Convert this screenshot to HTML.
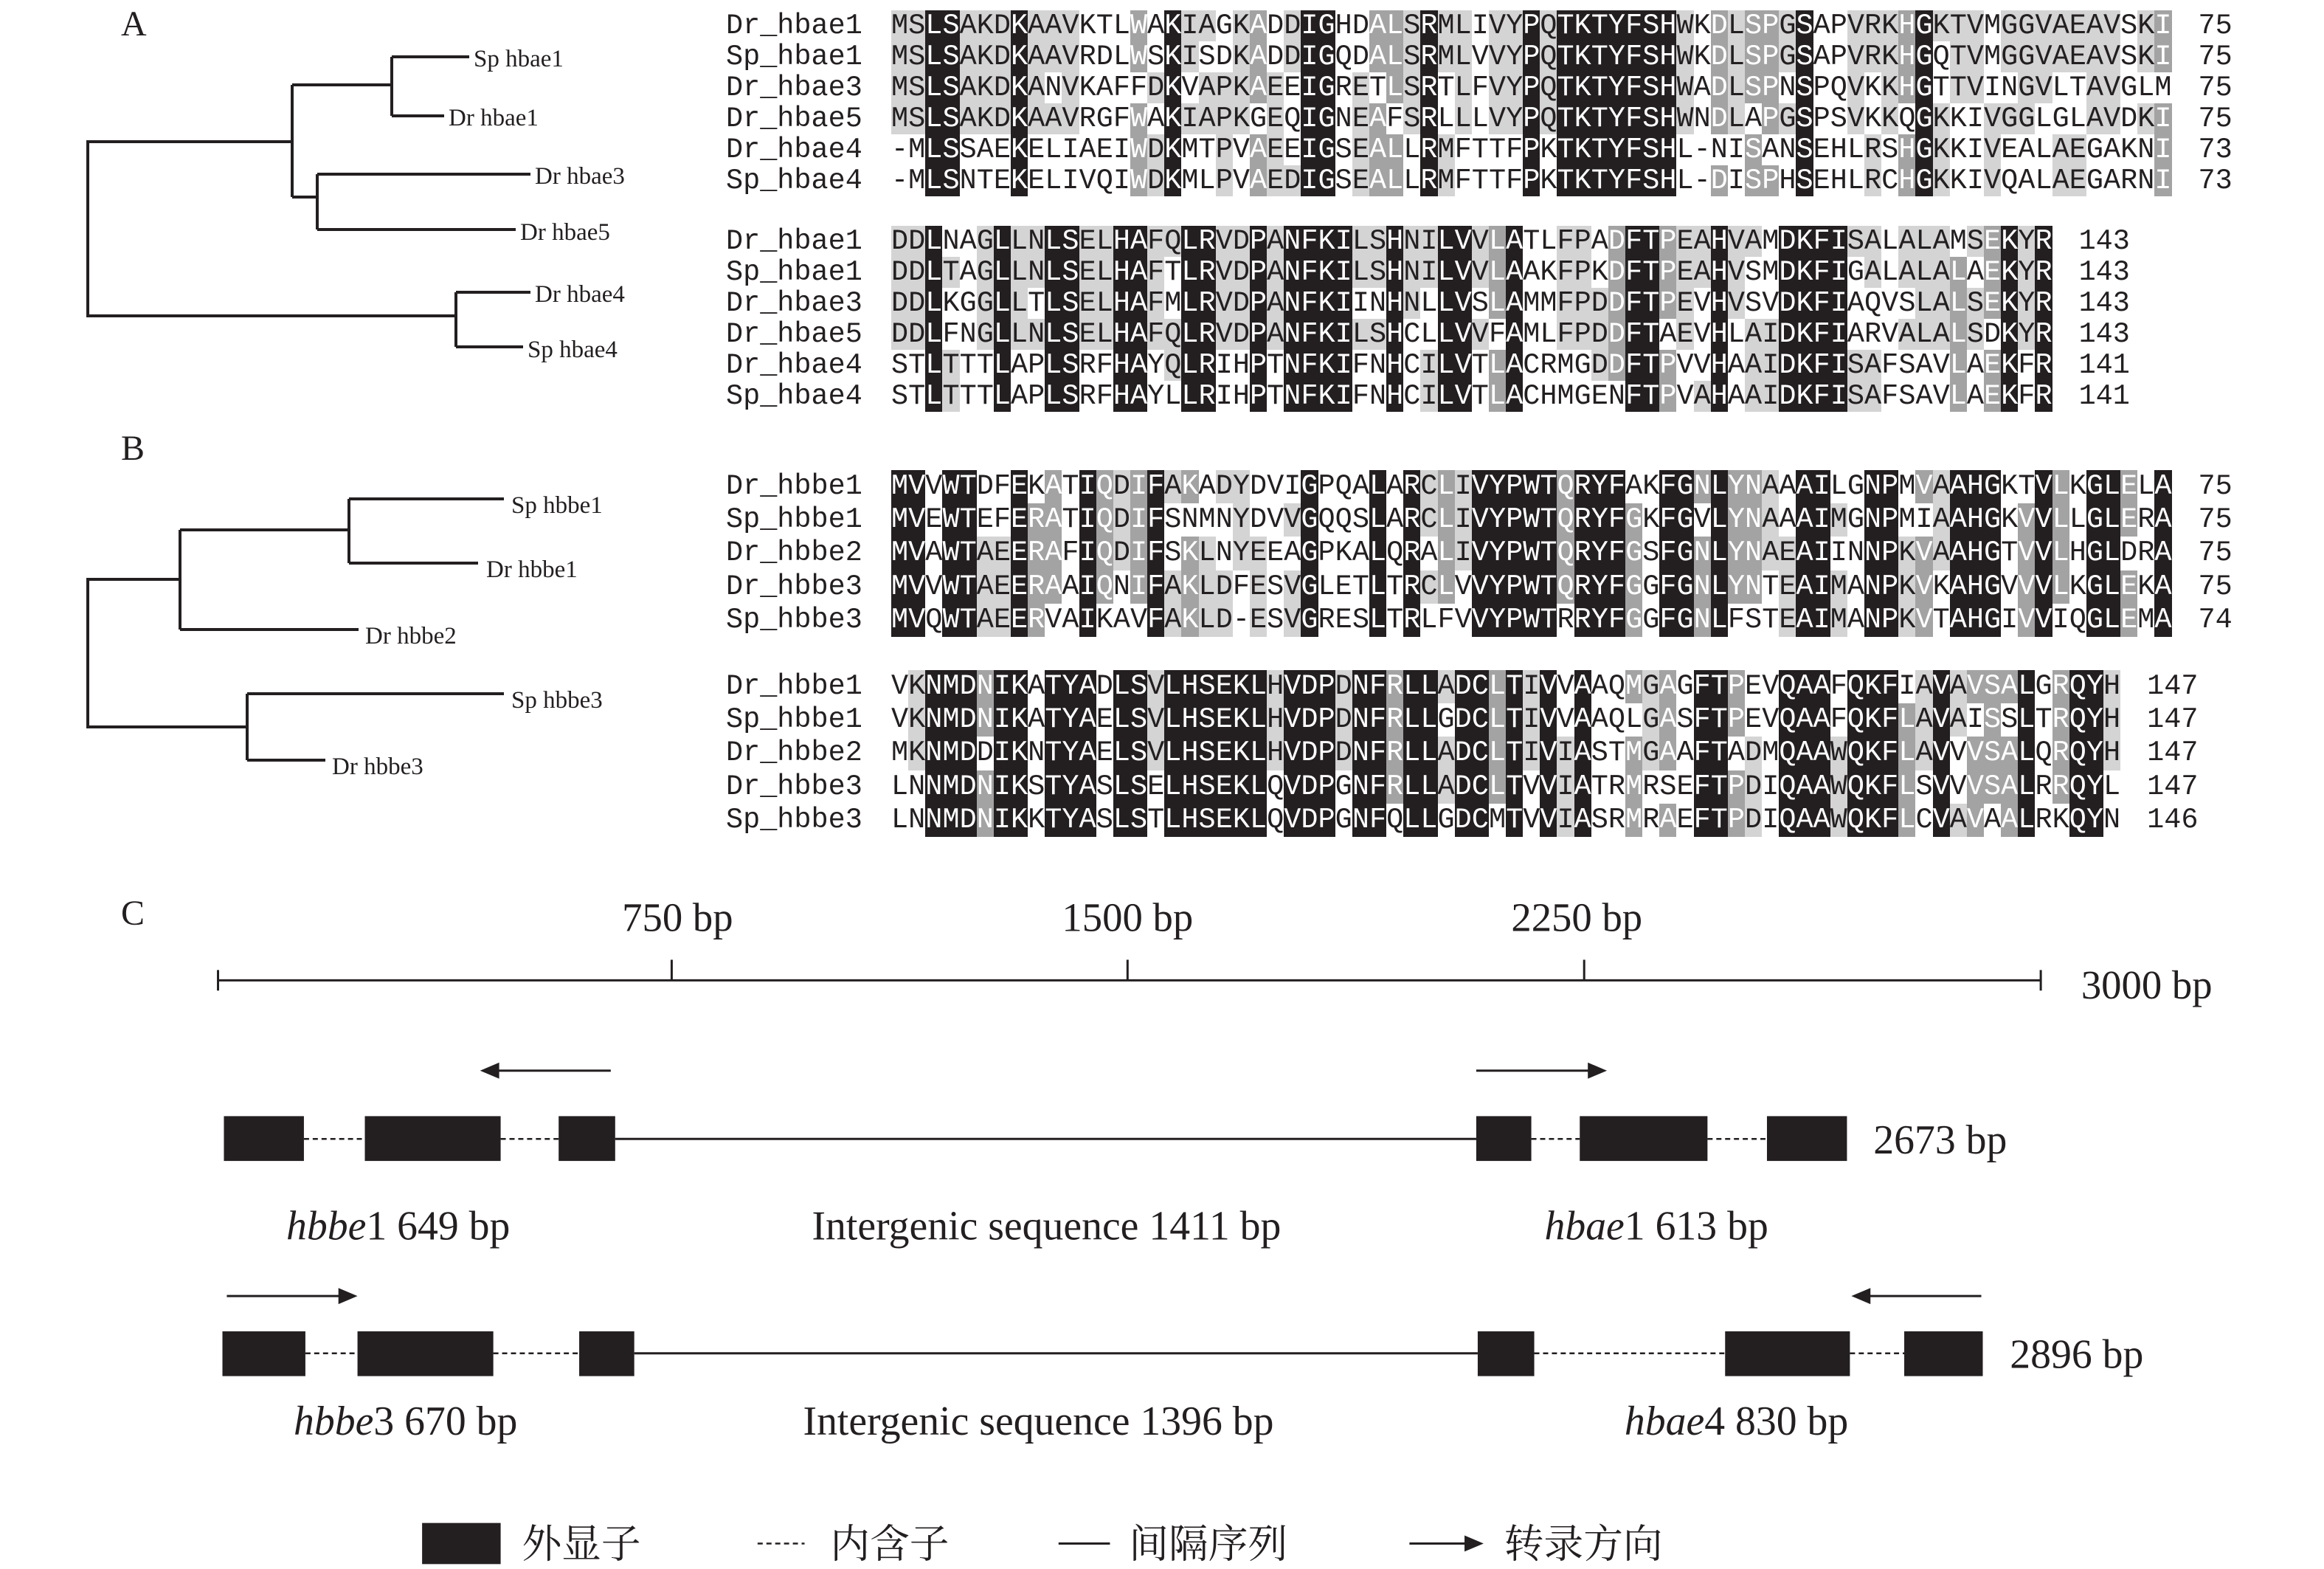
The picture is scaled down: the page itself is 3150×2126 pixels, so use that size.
<!DOCTYPE html>
<html><head><meta charset="utf-8">
<style>
html,body{margin:0;padding:0;background:#fff;}
#wrap{position:relative;width:3150px;height:2126px;overflow:hidden;background:#fff;}
svg{position:absolute;left:0;top:0;}
.blk{position:absolute;left:984px;font-family:"Liberation Mono",monospace;font-size:38.5px;color:#231f20;}
.row{position:relative;white-space:pre;}
.nm{display:inline-block;width:224px;}
.sq{display:inline-block;}
.sq span{display:inline-block;width:23.15px;text-align:center;}
.A .row{height:42px;line-height:42px;}
.B .row{height:45.2px;line-height:45.2px;}
.num{display:inline-block;margin-left:36px;}
</style></head><body><div id="wrap">
<svg width="3150" height="2126" viewBox="0 0 3150 2126" font-family="'Liberation Serif','Noto Serif CJK SC',serif" fill="#231f20">
<g stroke="#231f20" stroke-width="4" fill="none">
<polyline points="396,192 119,192 119,428 618,428"/>
<line x1="396" y1="115" x2="396" y2="267"/>
<polyline points="396,115 531,115"/>
<line x1="531" y1="77" x2="531" y2="157"/>
<line x1="531" y1="77" x2="636" y2="77"/>
<line x1="531" y1="157" x2="602" y2="157"/>
<line x1="396" y1="267" x2="430" y2="267"/>
<line x1="430" y1="236" x2="430" y2="311"/>
<line x1="430" y1="236" x2="719" y2="236"/>
<line x1="430" y1="311" x2="699" y2="311"/>
<line x1="618" y1="396" x2="618" y2="470"/>
<line x1="618" y1="396" x2="719" y2="396"/>
<line x1="618" y1="470" x2="709" y2="470"/>
<polyline points="244,785 119,785 119,985 335,985"/>
<line x1="244" y1="718" x2="244" y2="853"/>
<line x1="244" y1="718" x2="473" y2="718"/>
<line x1="473" y1="676" x2="473" y2="763"/>
<line x1="473" y1="676" x2="683" y2="676"/>
<line x1="473" y1="763" x2="648" y2="763"/>
<line x1="244" y1="853" x2="486" y2="853"/>
<line x1="335" y1="940" x2="335" y2="1030"/>
<line x1="335" y1="940" x2="683" y2="940"/>
<line x1="335" y1="1030" x2="441" y2="1030"/>
</g>
<g font-size="48"><text x="164" y="48">A</text><text x="164" y="623">B</text><text x="164" y="1253">C</text></g>
<g font-size="33">
<text x="642" y="90">Sp hbae1</text><text x="608" y="170">Dr hbae1</text>
<text x="725" y="249">Dr hbae3</text><text x="705" y="325">Dr hbae5</text>
<text x="725" y="409">Dr hbae4</text><text x="715" y="484">Sp hbae4</text>
<text x="693" y="695">Sp hbbe1</text><text x="659" y="782">Dr hbbe1</text>
<text x="495" y="872">Dr hbbe2</text><text x="693" y="959">Sp hbbe3</text>
<text x="450" y="1049">Dr hbbe3</text>
</g>
<g transform="scale(0.995)">
<g stroke="#231f20" stroke-width="3">
<line x1="297" y1="1335" x2="2780" y2="1335"/>
<line x1="297" y1="1321" x2="297" y2="1349"/>
<line x1="2780" y1="1321" x2="2780" y2="1349"/>
<line x1="915" y1="1307" x2="915" y2="1335"/>
<line x1="1536" y1="1307" x2="1536" y2="1335"/>
<line x1="2158" y1="1307" x2="2158" y2="1335"/>
</g>
<g font-size="55">
<text x="923" y="1268" text-anchor="middle">750 bp</text>
<text x="1536" y="1268" text-anchor="middle">1500 bp</text>
<text x="2148" y="1268" text-anchor="middle">2250 bp</text>
<text x="2835" y="1360">3000 bp</text>
</g>
<g stroke="#231f20" stroke-width="3">
<line x1="838" y1="1551" x2="2011" y2="1551"/>
</g>
<g stroke="#231f20" stroke-width="2.5" stroke-dasharray="7,5">
<line x1="414" y1="1551" x2="497" y2="1551"/><line x1="682" y1="1551" x2="761" y2="1551"/>
<line x1="2086" y1="1551" x2="2152" y2="1551"/><line x1="2326" y1="1551" x2="2407" y2="1551"/>
<line x1="416" y1="1843" x2="487" y2="1843"/><line x1="672" y1="1843" x2="789" y2="1843"/>
<line x1="2090" y1="1843" x2="2350" y2="1843"/><line x1="2520" y1="1843" x2="2594" y2="1843"/>
</g>
<g stroke="#231f20" stroke-width="3"><line x1="864" y1="1843" x2="2013" y2="1843"/></g>
<g fill="#231f20">
<rect x="305" y="1520" width="109" height="61"/><rect x="497" y="1520" width="185" height="61"/>
<rect x="761" y="1520" width="77" height="61"/><rect x="2011" y="1520" width="75" height="61"/>
<rect x="2152" y="1520" width="174" height="61"/><rect x="2407" y="1520" width="109" height="61"/>
<rect x="303" y="1813" width="113" height="61"/><rect x="487" y="1813" width="185" height="61"/>
<rect x="789" y="1813" width="75" height="61"/><rect x="2013" y="1813" width="77" height="61"/>
<rect x="2350" y="1813" width="170" height="61"/><rect x="2594" y="1813" width="107" height="61"/>
</g>
<g stroke="#231f20" stroke-width="3">
<line x1="832" y1="1458" x2="675" y2="1458"/><line x1="2011" y1="1458" x2="2168" y2="1458"/>
<line x1="309" y1="1765" x2="466" y2="1765"/><line x1="2699" y1="1765" x2="2543" y2="1765"/>
<line x1="1920" y1="2102" x2="2000" y2="2102"/>
</g>
<g fill="#231f20">
<polygon points="654,1458 680,1447 680,1469"/><polygon points="2189,1458 2163,1447 2163,1469"/>
<polygon points="487,1765 461,1754 461,1776"/><polygon points="2522,1765 2548,1754 2548,1776"/>
<polygon points="2021,2102 1995,2091 1995,2113"/>
</g>
<g font-size="56">
<text x="2552" y="1571">2673 bp</text>
<text x="2738" y="1863">2896 bp</text>
<text x="390" y="1688"><tspan font-style="italic">hbbe</tspan>1 649 bp</text>
<text x="1106" y="1688">Intergenic sequence 1411 bp</text>
<text x="2104" y="1688"><tspan font-style="italic">hbae</tspan>1 613 bp</text>
<text x="400" y="1954"><tspan font-style="italic">hbbe</tspan>3 670 bp</text>
<text x="1094" y="1954">Intergenic sequence 1396 bp</text>
<text x="2213" y="1954"><tspan font-style="italic">hbae</tspan>4 830 bp</text>
</g>
<rect x="575" y="2074" width="107" height="56" fill="#231f20"/>
<line x1="1032" y1="2102" x2="1096" y2="2102" stroke="#231f20" stroke-width="2.5" stroke-dasharray="7,5"/>
<line x1="1442" y1="2102" x2="1512" y2="2102" stroke="#231f20" stroke-width="3"/>
<g font-size="54">
<text x="711" y="2121">外显子</text><text x="1131" y="2121">内含子</text>
<text x="1538" y="2121">间隔序列</text><text x="2049" y="2121">转录方向</text>
</g>
</g>
</svg>

<div class="blk A" style="top:14px">
<div class="row"><span class="nm">Dr_hbae1</span><span class="sq">MSLSAKDKAAVKTLWAKIAGKADDIGHDALSRMLIVYPQTKTYFSHWKDLSPGSAPVRKHGKTVMGGVAEAVSKI</span><span class="num">75</span></div>
<div class="row"><span class="nm">Sp_hbae1</span><span class="sq">MSLSAKDKAAVRDLWSKISDKADDIGQDALSRMLVVYPQTKTYFSHWKDLSPGSAPVRKHGQTVMGGVAEAVSKI</span><span class="num">75</span></div>
<div class="row"><span class="nm">Dr_hbae3</span><span class="sq">MSLSAKDKANVKAFFDKVAPKAEEIGRETLSRTLFVYPQTKTYFSHWADLSPNSPQVKKHGTTVINGVLTAVGLM</span><span class="num">75</span></div>
<div class="row"><span class="nm">Dr_hbae5</span><span class="sq">MSLSAKDKAAVRGFWAKIAPKGEQIGNEAFSRLLLVYPQTKTYFSHWNDLAPGSPSVKKQGKKIVGGLGLAVDKI</span><span class="num">75</span></div>
<div class="row"><span class="nm">Dr_hbae4</span><span class="sq">-MLSSAEKELIAEIWDKMTPVAEEIGSEALLRMFTTFPKTKTYFSHL-NISANSEHLRSHGKKIVEALAEGAKNI</span><span class="num">73</span></div>
<div class="row"><span class="nm">Sp_hbae4</span><span class="sq">-MLSNTEKELIVQIWDKMLPVAEDIGSEALLRMFTTFPKTKTYFSHL-DISPHSEHLRCHGKKIVQALAEGARNI</span><span class="num">73</span></div>
</div>
<div class="blk A" style="top:306px">
<div class="row"><span class="nm">Dr_hbae1</span><span class="sq">DDLNAGLLNLSELHAFQLRVDPANFKILSHNILVVLATLFPADFTPEAHVAMDKFISALALAMSEKYR</span><span class="num">143</span></div>
<div class="row"><span class="nm">Sp_hbae1</span><span class="sq">DDLTAGLLNLSELHAFTLRVDPANFKILSHNILVVLAAKFPKDFTPEAHVSMDKFIGALALALAEKYR</span><span class="num">143</span></div>
<div class="row"><span class="nm">Dr_hbae3</span><span class="sq">DDLKGGLLTLSELHAFMLRVDPANFKIINHNLLVSLAMMFPDDFTPEVHVSVDKFIAQVSLALSEKYR</span><span class="num">143</span></div>
<div class="row"><span class="nm">Dr_hbae5</span><span class="sq">DDLFNGLLNLSELHAFQLRVDPANFKILSHCLLVVFAMLFPDDFTAEVHLAIDKFIARVALALSDKYR</span><span class="num">143</span></div>
<div class="row"><span class="nm">Dr_hbae4</span><span class="sq">STLTTTLAPLSRFHAYQLRIHPTNFKIFNHCILVTLACRMGDDFTPVVHAAIDKFISAFSAVLAEKFR</span><span class="num">141</span></div>
<div class="row"><span class="nm">Sp_hbae4</span><span class="sq">STLTTTLAPLSRFHAYLLRIHPTNFKIFNHCILVTLACHMGENFTPVAHAAIDKFISAFSAVLAEKFR</span><span class="num">141</span></div>
</div>
<div class="blk B" style="top:637px">
<div class="row"><span class="nm">Dr_hbbe1</span><span class="sq">MVVWTDFEKATIQDIFAKADYDVIGPQALARCLIVYPWTQRYFAKFGNLYNAAAILGNPMVAAHGKTVLKGLELA</span><span class="num">75</span></div>
<div class="row"><span class="nm">Sp_hbbe1</span><span class="sq">MVEWTEFERATIQDIFSNMNYDVVGQQSLARCLIVYPWTQRYFGKFGVLYNAAAIMGNPMIAAHGKVVLLGLERA</span><span class="num">75</span></div>
<div class="row"><span class="nm">Dr_hbbe2</span><span class="sq">MVAWTAEERAFIQDIFSKLNYEEAGPKALQRALIVYPWTQRYFGSFGNLYNAEAIINNPKVAAHGTVVLHGLDRA</span><span class="num">75</span></div>
<div class="row"><span class="nm">Dr_hbbe3</span><span class="sq">MVVWTAEERAAIQNIFAKLDFESVGLETLTRCLVVYPWTQRYFGGFGNLYNTEAIMANPKVKAHGVVVLKGLEKA</span><span class="num">75</span></div>
<div class="row"><span class="nm">Sp_hbbe3</span><span class="sq">MVQWTAEERVAIKAVFAKLD-ESVGRESLTRLFVVYPWTRRYFGGFGNLFSTEAIMANPKVTAHGIVVIQGLEMA</span><span class="num">74</span></div>
</div>
<div class="blk B" style="top:908px">
<div class="row"><span class="nm">Dr_hbbe1</span><span class="sq">VKNMDNIKATYADLSVLHSEKLHVDPDNFRLLADCLTIVVAAQMGAGFTPEVQAAFQKFIAVAVSALGRQYH</span><span class="num">147</span></div>
<div class="row"><span class="nm">Sp_hbbe1</span><span class="sq">VKNMDNIKATYAELSVLHSEKLHVDPDNFRLLGDCLTIVVAAQLGASFTPEVQAAFQKFLAVAISSLTRQYH</span><span class="num">147</span></div>
<div class="row"><span class="nm">Dr_hbbe2</span><span class="sq">MKNMDDIKNTYAELSVLHSEKLHVDPDNFRLLADCLTIVIASTMGAAFTADMQAAWQKFLAVVVSALQRQYH</span><span class="num">147</span></div>
<div class="row"><span class="nm">Dr_hbbe3</span><span class="sq">LNNMDNIKSTYASLSELHSEKLQVDPGNFRLLADCLTVVIATRMRSEFTPDIQAAWQKFLSVVVSALRRQYL</span><span class="num">147</span></div>
<div class="row"><span class="nm">Sp_hbbe3</span><span class="sq">LNNMDNIKKTYASLSTLHSEKLQVDPGNFQLLGDCMTVVIASRMRAEFTPDIQAAWQKFLCVAVAALRKQYN</span><span class="num">146</span></div>
</div>
</div>
<script>
document.querySelectorAll('.blk').forEach(function(b){
  var sqs=[].slice.call(b.querySelectorAll('.sq'));
  var seqs=sqs.map(function(s){return s.textContent;});
  var n=seqs.length, L=seqs[0].length;
  var out=seqs.map(function(){return '';});
  for(var c=0;c<L;c++){
    var cnt={};
    for(var r=0;r<n;r++){var ch=seqs[r][c];if(ch&&ch!=='-')cnt[ch]=(cnt[ch]||0)+1;}
    var best='',bc=0;for(var k in cnt){if(cnt[k]>bc){bc=cnt[k];best=k;}}
    for(var r=0;r<n;r++){
      var ch=seqs[r][c]||' ';var st='';
      if(ch===best){
        if(bc===n)st='background:#231f20;color:#fff;';
        else if(bc/n>=0.8)st='background:#a3a3a3;color:#fff;';
        else if(bc/n>=0.5)st='background:#d4d4d4;';
      }
      out[r]+='<span style="'+st+'">'+ch+'</span>';
    }
  }
  sqs.forEach(function(s,i){s.innerHTML=out[i];});
});
</script>
</body></html>
